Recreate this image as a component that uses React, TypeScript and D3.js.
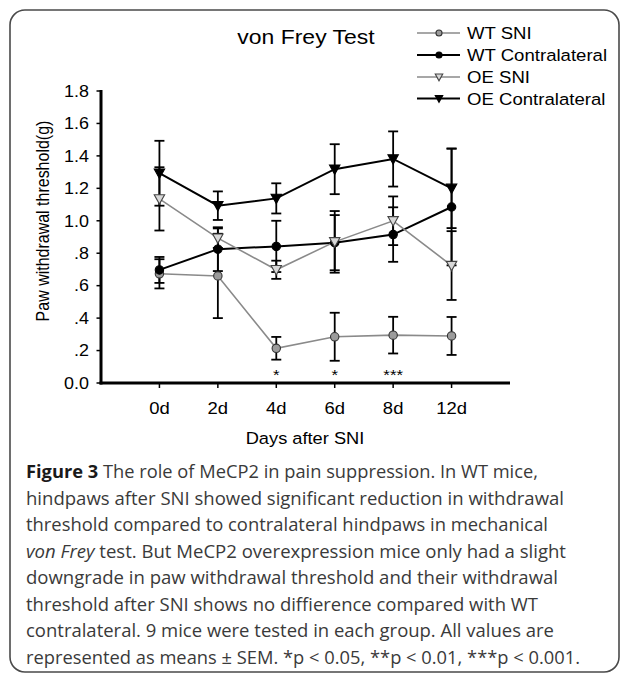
import React from "react";
import * as d3 from "d3";

const categories = ["0d", "2d", "4d", "6d", "8d", "12d"];
const wtSni = [0.673, 0.66, 0.214, 0.285, 0.295, 0.29];
const wtSniErr = [0.09, 0.26, 0.07, 0.148, 0.113, 0.117];
const wtContra = [0.697, 0.825, 0.842, 0.865, 0.915, 1.085];
const wtContraErr = [0.08, 0.135, 0.158, 0.17, 0.168, 0.36];
const oeSni = [1.135, 0.893, 0.698, 0.87, 1.0, 0.724];
const oeSniErr = [0.195, 0.06, 0.056, 0.19, 0.15, 0.212];
const oeContra = [1.293, 1.093, 1.138, 1.318, 1.381, 1.2];
const oeContraErr = [0.2, 0.088, 0.093, 0.154, 0.17, 0.245];
const yTicks = [0, 0.2, 0.4, 0.6, 0.8, 1.0, 1.2, 1.4, 1.6, 1.8];
const yTickLabels = ["0.0", ".2", ".4", ".6", ".8", "1.0", "1.2", "1.4", "1.6", "1.8"];
const significance = [
  { cat: "4d", label: "*" },
  { cat: "6d", label: "*" },
  { cat: "8d", label: "***" },
];
const seriesNames = ["WT SNI", "WT Contralateral", "OE SNI", "OE Contralateral"];

const captionLines: { parts: { t: string; bold?: boolean; italic?: boolean }[]; w: number }[] = [
  { parts: [{ t: "Figure 3", bold: true }, { t: " The role of MeCP2 in pain suppression. In WT mice," }], w: 512 },
  { parts: [{ t: "hindpaws after SNI showed significant reduction in withdrawal" }], w: 538 },
  { parts: [{ t: "threshold compared to contralateral hindpaws in mechanical" }], w: 522 },
  { parts: [{ t: "von Frey", italic: true }, { t: " test. But MeCP2 overexpression mice only had a slight" }], w: 540 },
  { parts: [{ t: "downgrade in paw withdrawal threshold and their withdrawal" }], w: 532 },
  { parts: [{ t: "threshold after SNI shows no diffierence compared with WT" }], w: 512 },
  { parts: [{ t: "contralateral. 9 mice were tested in each group. All values are" }], w: 528 },
  { parts: [{ t: "represented as means \u00b1 SEM. *p < 0.05, **p < 0.01, ***p < 0.001." }], w: 554 },
];

const W = 627;
const H = 679;
const FONT = "'Liberation Sans', Arial, sans-serif";
const SX = 1.12;

const x = d3.scalePoint<string>().domain(categories).range([101, 510]).padding(1);
const y = d3.scaleLinear().domain([0, 1.8]).range([383, 91]);

type Series = {
  name: string;
  values: number[];
  errs: number[];
  lineColor: string;
  lineWidth: number;
  marker: "circle" | "tri";
  fill: string;
  stroke: string;
};

const series: Series[] = [
  { name: seriesNames[0], values: wtSni, errs: wtSniErr, lineColor: "#8a8a8a", lineWidth: 1.6, marker: "circle", fill: "#9b9b9b", stroke: "#333" },
  { name: seriesNames[1], values: wtContra, errs: wtContraErr, lineColor: "#000", lineWidth: 2, marker: "circle", fill: "#000", stroke: "#000" },
  { name: seriesNames[2], values: oeSni, errs: oeSniErr, lineColor: "#8a8a8a", lineWidth: 1.6, marker: "tri", fill: "#d8d8d8", stroke: "#444" },
  { name: seriesNames[3], values: oeContra, errs: oeContraErr, lineColor: "#000", lineWidth: 2, marker: "tri", fill: "#000", stroke: "#000" },
];

function Marker({ kind, cx, cy, fill, stroke, s = 1 }: { kind: string; cx: number; cy: number; fill: string; stroke: string; s?: number }) {
  if (kind === "circle") {
    return <circle cx={cx} cy={cy} r={4.2 * s} fill={fill} stroke={stroke} strokeWidth={1.1} />;
  }
  const hw = 5.2 * s;
  const up = 4.2 * s;
  const dn = 5.2 * s;
  return (
    <path
      d={`M${cx - hw},${cy - up}L${cx + hw},${cy - up}L${cx},${cy + dn}Z`}
      fill={fill}
      stroke={stroke}
      strokeWidth={1.1}
    />
  );
}

function SText({ x: tx, y: ty, size, anchor = "start", children, weight }: any) {
  return (
    <text
      transform={`translate(${tx},${ty}) scale(${SX},1)`}
      fontSize={size}
      fontFamily={FONT}
      textAnchor={anchor}
      fontWeight={weight}
      fill="#000"
    >
      {children}
    </text>
  );
}

export default function App() {
  const line = d3
    .line<number>()
    .x((_, i) => x(categories[i]) as number)
    .y((v) => y(v));

  const legendY = [33, 55, 77, 98.5];

  return (
    <svg
      width={W}
      height={H}
      style={{ position: "absolute", left: 0, top: 0, background: "#fff" }}
    >
      <rect x={0} y={0} width={W} height={H} fill="#fff" />
      <rect x={10} y={10} width={609} height={662} rx={15} ry={15} fill="none" stroke="#4a4a4a" strokeWidth={1.6} />

      {/* Title */}
      <SText x={306} y={44} size={20.5} anchor="middle">von Frey Test</SText>

      {/* Legend */}
      {series.map((s, i) => (
        <g key={s.name}>
          <line x1={417} x2={460} y1={legendY[i]} y2={legendY[i]} stroke={s.lineColor} strokeWidth={s.lineWidth} />
          <Marker kind={s.marker} cx={439} cy={legendY[i]} fill={s.fill} stroke={s.stroke} s={0.72} />
          <SText x={467} y={legendY[i] + 6} size={16.6}>{s.name}</SText>
        </g>
      ))}

      {/* Y axis */}
      <line x1={101} x2={101} y1={y(1.8) - 1} y2={y(0) + 1.5} stroke="#000" strokeWidth={3} />
      {yTicks.map((t, i) => (
        <g key={t}>
          <line x1={96.5} x2={101} y1={y(t)} y2={y(t)} stroke="#000" strokeWidth={1.5} />
          <SText x={89} y={y(t) + 5.8} size={16} anchor="end">{yTickLabels[i]}</SText>
        </g>
      ))}
      <text
        transform={`translate(49,${(y(0) + y(1.8)) / 2 - 16}) rotate(-90) scale(1,${SX})`}
        fontSize={16}
        fontFamily={FONT}
        textAnchor="middle"
        fill="#000"
      >
        Paw withdrawal threshold(g)
      </text>

      {/* X axis */}
      <line x1={99.5} x2={510} y1={y(0)} y2={y(0)} stroke="#000" strokeWidth={3} />
      {categories.map((c) => (
        <g key={c}>
          <line x1={x(c)} x2={x(c)} y1={y(0)} y2={y(0) + 5} stroke="#000" strokeWidth={1.5} />
          <SText x={x(c)} y={413.5} size={16.5} anchor="middle">{c}</SText>
        </g>
      ))}
      <SText x={305} y={443.5} size={16.3} anchor="middle">Days after SNI</SText>

      {/* Significance */}
      {significance.map((s) => (
        <SText key={s.cat} x={x(s.cat)} y={380} size={15} anchor="middle">{s.label}</SText>
      ))}

      {/* Lines */}
      {series.map((s) => (
        <path key={s.name} d={line(s.values) || ""} fill="none" stroke={s.lineColor} strokeWidth={s.lineWidth} />
      ))}

      {/* Error bars */}
      {series.map((s) =>
        s.values.map((v, i) => {
          const cx = x(categories[i]) as number;
          const top = y(v + s.errs[i]);
          const bot = y(v - s.errs[i]);
          return (
            <g key={s.name + i} stroke="#000" strokeWidth={1.8}>
              <line x1={cx} x2={cx} y1={top} y2={bot} />
              <line x1={cx - 5} x2={cx + 5} y1={top} y2={top} />
              <line x1={cx - 5} x2={cx + 5} y1={bot} y2={bot} />
            </g>
          );
        })
      )}

      {/* Markers */}
      {series.map((s) =>
        s.values.map((v, i) => (
          <Marker key={s.name + "m" + i} kind={s.marker} cx={x(categories[i]) as number} cy={y(v)} fill={s.fill} stroke={s.stroke} />
        ))
      )}

      {/* Caption */}
      {captionLines.map((ln, i) => (
        <text
          key={i}
          x={26}
          y={478 + i * 26.5}
          fontSize={17.5}
          fontFamily="'Open Sans', 'Noto Sans', sans-serif"
          fill="#3a3a3a"
          textLength={ln.w}
          lengthAdjust="spacingAndGlyphs"
        >
          {ln.parts.map((p, j) => (
            <tspan key={j} fontWeight={p.bold ? 700 : 400} fontStyle={p.italic ? "italic" : "normal"} fill={p.bold ? "#1a1a1a" : "#3a3a3a"}>
              {p.t}
            </tspan>
          ))}
        </text>
      ))}
    </svg>
  );
}
